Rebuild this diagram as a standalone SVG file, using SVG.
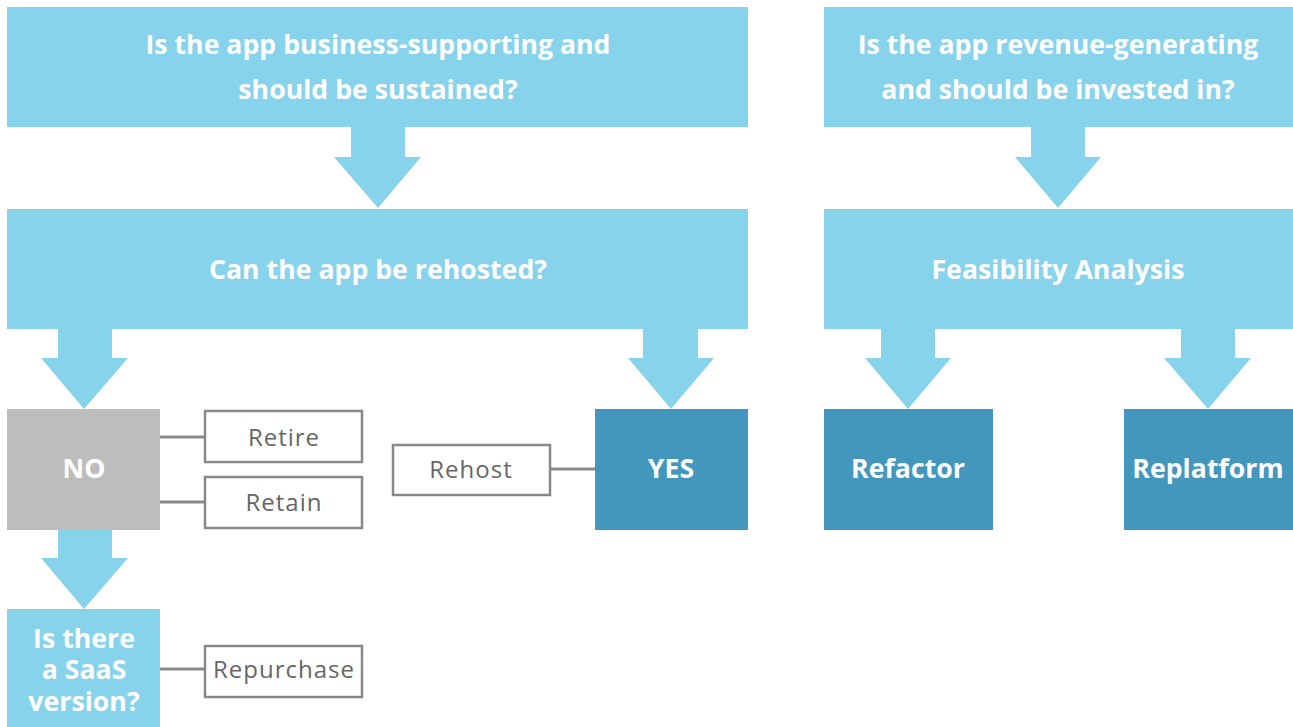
<svg xmlns="http://www.w3.org/2000/svg" width="1293" height="727" viewBox="0 0 1293 727">
<style>
.lb{fill:#87d3eb}
.db{fill:#4397bc}
.gr{fill:#bdbdbd}
.ar{fill:#87d3eb}
.t{font-family:"Open Sans","Liberation Sans",sans-serif;font-weight:bold;font-size:26.7px;fill:#ffffff;text-anchor:middle}
.opt{fill:#ffffff;stroke:#888888;stroke-width:2.5}
.ot{font-family:"Open Sans","Liberation Sans",sans-serif;font-size:24px;letter-spacing:1px;fill:#666666;text-anchor:middle}
.ln{stroke:#888888;stroke-width:3;fill:none}
</style>
<rect width="1293" height="727" fill="#ffffff"/>
<g id="connectors">
<polygon class="ar" points="351,127 405,127 405,157 421,157 378,208 334,157 351,157"/>
<polygon class="ar" points="1031,127 1085,127 1085,157 1101,157 1058,208 1015,157 1031,157"/>
<polygon class="ar" points="58,329 112,329 112,358 128,358 84,409 41,358 58,358"/>
<polygon class="ar" points="643,329 698,329 698,358 714,358 671,409 628,358 643,358"/>
<polygon class="ar" points="881,329 935,329 935,358 951,358 908,409 865,358 881,358"/>
<polygon class="ar" points="1181,329 1235,329 1235,358 1251,358 1208,409 1164,358 1181,358"/>
<polygon class="ar" points="58,530 112,530 112,558 128,558 84,609 41,558 58,558"/>
<line class="ln" x1="160" y1="437" x2="205" y2="437"/>
<line class="ln" x1="160" y1="502" x2="205" y2="502"/>
<line class="ln" x1="550" y1="469" x2="595" y2="469"/>
<line class="ln" x1="160" y1="669" x2="205" y2="669"/>
</g>
<g id="q1"><rect class="lb" x="7" y="7" width="741" height="120"/>
<text class="t" x="378" y="54">Is the app business-supporting and</text>
<text class="t" x="378" y="99">should be sustained?</text></g>
<g id="q2"><rect class="lb" x="824" y="7" width="469" height="120"/>
<text class="t" x="1058" y="54">Is the app revenue-generating</text>
<text class="t" x="1058" y="99">and should be invested in?</text></g>
<g id="q3"><rect class="lb" x="7" y="209" width="741" height="120"/>
<text class="t" x="378" y="279">Can the app be rehosted?</text></g>
<g id="q4"><rect class="lb" x="824" y="209" width="469" height="120"/>
<text class="t" x="1058" y="279">Feasibility Analysis</text></g>
<g id="no"><rect class="gr" x="7" y="409" width="153" height="121"/>
<text class="t" x="84" y="478">NO</text></g>
<g id="yes"><rect class="db" x="595" y="409" width="153" height="121"/>
<text class="t" x="671" y="478">YES</text></g>
<g id="refactor"><rect class="db" x="824" y="409" width="169" height="121"/>
<text class="t" x="908" y="478">Refactor</text></g>
<g id="replatform"><rect class="db" x="1124" y="409" width="169" height="121"/>
<text class="t" x="1208" y="478">Replatform</text></g>
<g id="saas"><rect class="lb" x="7" y="609" width="153" height="118"/>
<text class="t" x="84" y="648">Is there</text>
<text class="t" x="84" y="679">a SaaS</text>
<text class="t" x="84" y="711">version?</text></g>
<g id="retire"><rect class="opt" x="205" y="411" width="157" height="51"/>
<text class="ot" x="284" y="446">Retire</text></g>
<g id="retain"><rect class="opt" x="205" y="477" width="157" height="51"/>
<text class="ot" x="284" y="511">Retain</text></g>
<g id="rehost"><rect class="opt" x="393" y="445" width="157" height="50"/>
<text class="ot" x="471" y="478">Rehost</text></g>
<g id="repurchase"><rect class="opt" x="205" y="646" width="157" height="51"/>
<text class="ot" x="284" y="678">Repurchase</text></g>
</svg>
